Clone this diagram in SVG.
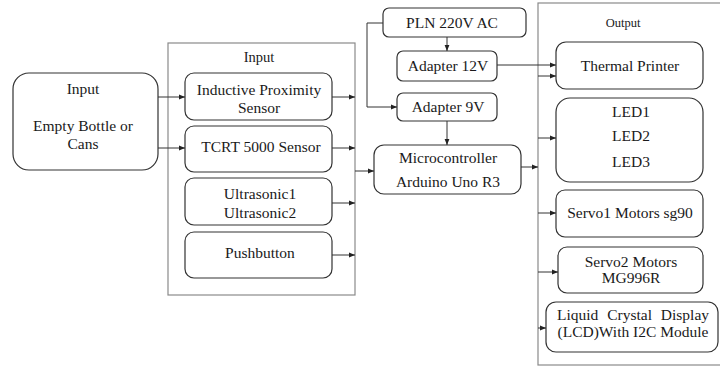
<svg xmlns="http://www.w3.org/2000/svg" width="720" height="366" viewBox="0 0 720 366" font-family="'Liberation Serif', serif">
<style>
text{font-family:'Liberation Serif',serif;font-size:15.5px;fill:#1a1a1a;text-anchor:middle}
.h{font-size:14.5px}
.ho{font-size:12.5px}
.box{fill:#fff;stroke:#333;stroke-width:1.2}
.cont{fill:none;stroke:#8a8a8a;stroke-width:1.2}
.c{fill:none;stroke:#333;stroke-width:1}
</style>
<defs>
<marker id="ah" viewBox="0 0 6 6" refX="6" refY="3" markerWidth="6" markerHeight="6" markerUnits="userSpaceOnUse" orient="auto">
<path d="M0,0.6 L6,3 L0,5.4 Z" fill="#222"/>
</marker>
</defs>
<rect width="720" height="366" fill="#fff"/>

<g id="input-container">
<rect class="cont" x="168" y="43" width="187" height="252"/>
<text class="h" x="259" y="62">Input</text>
</g>
<g id="output-container">
<rect class="cont" x="538" y="3" width="190" height="362"/>
<text class="ho" x="623" y="27">Output</text>
</g>

<g id="bottle">
<rect class="box" x="13" y="73" width="145" height="97" rx="16"/>
<text x="83" y="94">Input</text>
<text x="83" y="131">Empty Bottle or</text>
<text x="83" y="149">Cans</text>
</g>

<g id="inductive">
<rect class="box" x="185" y="73" width="147" height="47" rx="9"/>
<text x="259" y="95">Inductive Proximity</text>
<text x="259" y="113">Sensor</text>
</g>
<g id="tcrt">
<rect class="box" x="185" y="126" width="147" height="46" rx="9"/>
<text x="261" y="152">TCRT 5000 Sensor</text>
</g>
<g id="ultrasonic">
<rect class="box" x="185" y="178" width="147" height="47" rx="9"/>
<text x="260" y="199">Ultrasonic1</text>
<text x="260" y="218">Ultrasonic2</text>
</g>
<g id="pushbutton">
<rect class="box" x="185" y="232" width="147" height="46" rx="9"/>
<text x="260" y="258">Pushbutton</text>
</g>

<g id="pln">
<rect class="box" x="383" y="8" width="143" height="29" rx="6"/>
<text x="452" y="28">PLN 220V AC</text>
</g>
<g id="adapter12">
<rect class="box" x="397" y="51" width="100" height="30" rx="6"/>
<text x="448" y="71">Adapter 12V</text>
</g>
<g id="adapter9">
<rect class="box" x="397" y="93" width="100" height="28" rx="6"/>
<text x="448" y="112">Adapter 9V</text>
</g>
<g id="micro">
<rect class="box" x="374" y="145" width="147" height="49" rx="10"/>
<text x="448" y="163">Microcontroller</text>
<text x="448" y="187">Arduino Uno R3</text>
</g>

<g id="printer">
<rect class="box" x="556" y="42" width="147" height="47" rx="10"/>
<text x="630" y="71">Thermal Printer</text>
</g>
<g id="led">
<rect class="box" x="556" y="98" width="147" height="84" rx="14"/>
<text x="631" y="117">LED1</text>
<text x="631" y="141">LED2</text>
<text x="631" y="167">LED3</text>
</g>
<g id="servo1">
<rect class="box" x="556" y="190" width="147" height="47" rx="9"/>
<text x="630" y="218">Servo1 Motors sg90</text>
</g>
<g id="servo2">
<rect class="box" x="558" y="247" width="145" height="46" rx="9"/>
<text x="631" y="267">Servo2 Motors</text>
<text x="631" y="283">MG996R</text>
</g>
<g id="lcd">
<rect class="box" x="546" y="302" width="172" height="50" rx="10"/>
<text x="633" y="320" word-spacing="5">Liquid Crystal Display</text>
<text x="633" y="337">(LCD)With I2C Module</text>
</g>

<g id="connectors">
<path class="c" d="M158,97 H185" marker-end="url(#ah)"/>
<path class="c" d="M158,148 H185" marker-end="url(#ah)"/>
<path class="c" d="M332,97 H355" marker-end="url(#ah)"/>
<path class="c" d="M332,148 H355" marker-end="url(#ah)"/>
<path class="c" d="M332,203 H355" marker-end="url(#ah)"/>
<path class="c" d="M332,255 H355" marker-end="url(#ah)"/>
<path class="c" d="M355,171 H374" marker-end="url(#ah)"/>
<path class="c" d="M447,37 V51" marker-end="url(#ah)"/>
<path class="c" d="M383,23 H367 V107 H397" marker-end="url(#ah)"/>
<path class="c" d="M447,121 V145" marker-end="url(#ah)"/>
<path class="c" d="M497,65 H556" marker-end="url(#ah)"/>
<path class="c" d="M538,76 H556" marker-end="url(#ah)"/>
<path class="c" d="M521,167 H538" marker-end="url(#ah)"/>
<path class="c" d="M538,138 H556" marker-end="url(#ah)"/>
<path class="c" d="M538,213 H556" marker-end="url(#ah)"/>
<path class="c" d="M538,272 H558" marker-end="url(#ah)"/>
<path class="c" d="M538,328 H546" marker-end="url(#ah)"/>
</g>
</svg>
